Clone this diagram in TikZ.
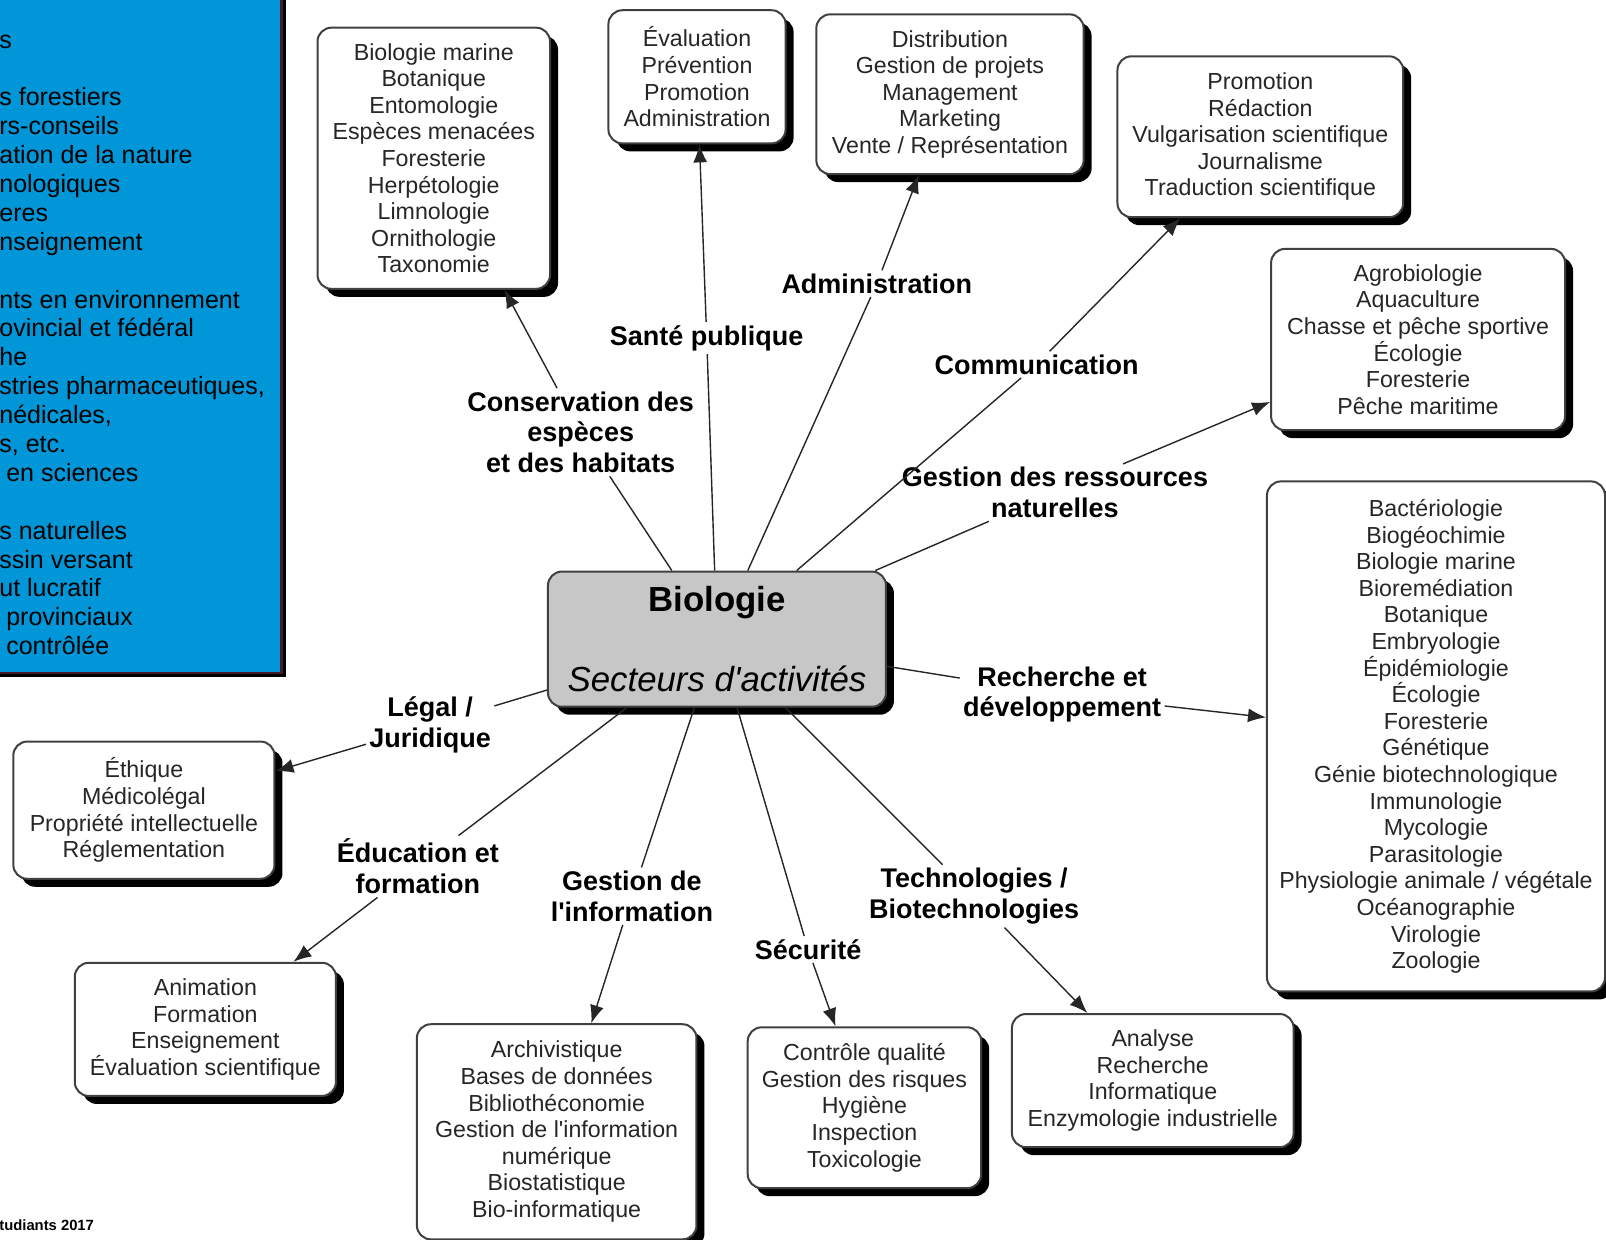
\documentclass[tikz,border=0pt]{standalone}
\usepackage{fontspec}
\setmainfont{Liberation Sans}[Ligatures=TeXOff]
\usetikzlibrary{shadows, arrows.meta}

\definecolor{panelblue}{RGB}{0,150,215}
\definecolor{panelrim}{RGB}{70,25,45}
\def\pxu{0.5121pt}

\begin{document}
\begin{tikzpicture}[x=\pxu, y=-\pxu,
	listtxt/.style={align=center, inner sep=0pt, text=black!85,
		font=\fontsize{11.6}{13.3}\selectfont},
	leaf/.style={listtxt, draw=black!75, line width=1pt, rounded corners=7pt, fill=white,
		drop shadow={shadow xshift=4pt, shadow yshift=-4pt, fill=black, opacity=1}},
	sector/.style={align=center, inner sep=1.5pt, font=\bfseries\fontsize{13.5}{15.4}\selectfont},
	link/.style={line width=0.7pt, black!85},
	arr/.style={link, -{Latex[length=9pt, width=7pt]}}]

	\useasboundingbox (0,0) rectangle (1568,1210.6);

	% blue panel, cut by the left edge
	\fill[black] (-40,-40) rectangle (279,661);
	\filldraw[fill=panelblue, draw=panelrim, line width=1.2pt] (-40,-40) rectangle (275,657);
	\foreach \t [count=\i] in {s, , s forestiers, rs-conseils, ation de la nature,
		nologiques, eres, nseignement, , nts en environnement, ovincial et fédéral,
		he, {stries pharmaceutiques,}, {nédicales,}, {s, etc.}, \ en sciences, ,
		s naturelles, ssin versant, ut lucratif, \ provinciaux, \ contrôlée}
		\node[anchor=base west, inner sep=0pt, font=\fontsize{12.5}{14.4}\selectfont]
			(side\i) at (-1, {47+28.2*(\i-1)}) {\t};

	\node[anchor=base west, inner sep=0pt, font=\bfseries\fontsize{7.4}{8}\selectfont]
		(credit) at (-1,1201) {tudiants 2017};

	% centre
	\node[leaf, fill=black!22, text=black, minimum width=330*\pxu, minimum height=132*\pxu,
		font=\fontsize{17.4}{20.5}\selectfont] (bio) at (700,624)
		{\textbf{Biologie}\\[19.5pt]\textit{Secteurs d\textquotesingle activités}};

	% sectors
	\node[sector] (consl)  at (567,422)  {Conservation des\\espèces\\et des habitats};
	\node[sector] (santel) at (690,330)  {Santé publique};
	\node[sector] (adminl) at (856,277)  {Administration};
	\node[sector] (comml)  at (1012,356) {Communication};
	\node[sector] (ressl)  at (1030,481) {Gestion des ressources\\naturelles};
	\node[sector] (rdl)    at (1037,678) {Recherche et\\développement};
	\node[sector] (legall) at (420,708)  {Légal /\\Juridique};
	\node[sector] (educl)  at (408,846)  {Éducation et\\formation};
	\node[sector] (infol)  at (617,875)  {Gestion de\\l\textquotesingle information};
	\node[sector] (secul)  at (789,927)  {Sécurité};
	\node[sector] (techl)  at (951,875)  {Technologies /\\Biotechnologies};

	% boxes
	\node[leaf, minimum width=227*\pxu, minimum height=255*\pxu] (consbox) at (423.5,154.5)
		{Biologie marine\\Botanique\\Entomologie\\Espèces menacées\\Foresterie\\Herpétologie\\Limnologie\\Ornithologie\\Taxonomie};
	\node[leaf, minimum width=173*\pxu, minimum height=130*\pxu] (santebox) at (680.5,75)
		{Évaluation\\Prévention\\Promotion\\Administration};
	\node[leaf, minimum width=261*\pxu, minimum height=156*\pxu] (adminbox) at (927.5,92)
		{Distribution\\Gestion de projets\\Management\\Marketing\\Vente / Représentation};
	\node[leaf, minimum width=279*\pxu, minimum height=157*\pxu] (commbox) at (1230.5,133.5)
		{Promotion\\Rédaction\\Vulgarisation scientifique\\Journalisme\\Traduction scientifique};
	\node[leaf, minimum width=287*\pxu, minimum height=177*\pxu] (ressbox) at (1384.5,331.5)
		{Agrobiologie\\Aquaculture\\Chasse et pêche sportive\\Écologie\\Foresterie\\Pêche maritime};
	\node[leaf, minimum width=330*\pxu, minimum height=498*\pxu] (rdbox) at (1402,719)
		{Bactériologie\\Biogéochimie\\Biologie marine\\Bioremédiation\\Botanique\\Embryologie\\Épidémiologie\\Écologie\\Foresterie\\Génétique\\Génie biotechnologique\\Immunologie\\Mycologie\\Parasitologie\\Physiologie animale / végétale\\Océanographie\\Virologie\\Zoologie};
	\node[leaf, minimum width=255*\pxu, minimum height=134*\pxu] (legalbox) at (140.5,791)
		{Éthique\\Médicolégal\\Propriété intellectuelle\\Réglementation};
	\node[leaf, minimum width=255*\pxu, minimum height=130*\pxu] (educbox) at (200.5,1005)
		{Animation\\Formation\\Enseignement\\Évaluation scientifique};
	\node[leaf, minimum width=273*\pxu, minimum height=210*\pxu] (infobox) at (543.5,1105)
		{Archivistique\\Bases de données\\Bibliothéconomie\\Gestion de l\textquotesingle information\\numérique\\Biostatistique\\Bio-informatique};
	\node[leaf, minimum width=228*\pxu, minimum height=157*\pxu] (secubox) at (844,1081.5)
		{Contrôle qualité\\Gestion des risques\\Hygiène\\Inspection\\Toxicologie};
	\node[leaf, minimum width=275*\pxu, minimum height=130*\pxu] (techbox) at (1125.5,1055)
		{Analyse\\Recherche\\Informatique\\Enzymologie industrielle};

	% connectors
	\foreach \lbl/\tgt in {consl/consbox, santel/santebox, adminl/adminbox, comml/commbox,
		ressl/ressbox, rdl/rdbox, legall/legalbox, educl/educbox, infol/infobox,
		secul/secubox, techl/techbox} {
		\draw[link] (bio) -- (\lbl);
		\draw[arr] (\lbl) -- (\tgt);
	}
\end{tikzpicture}
\end{document}
